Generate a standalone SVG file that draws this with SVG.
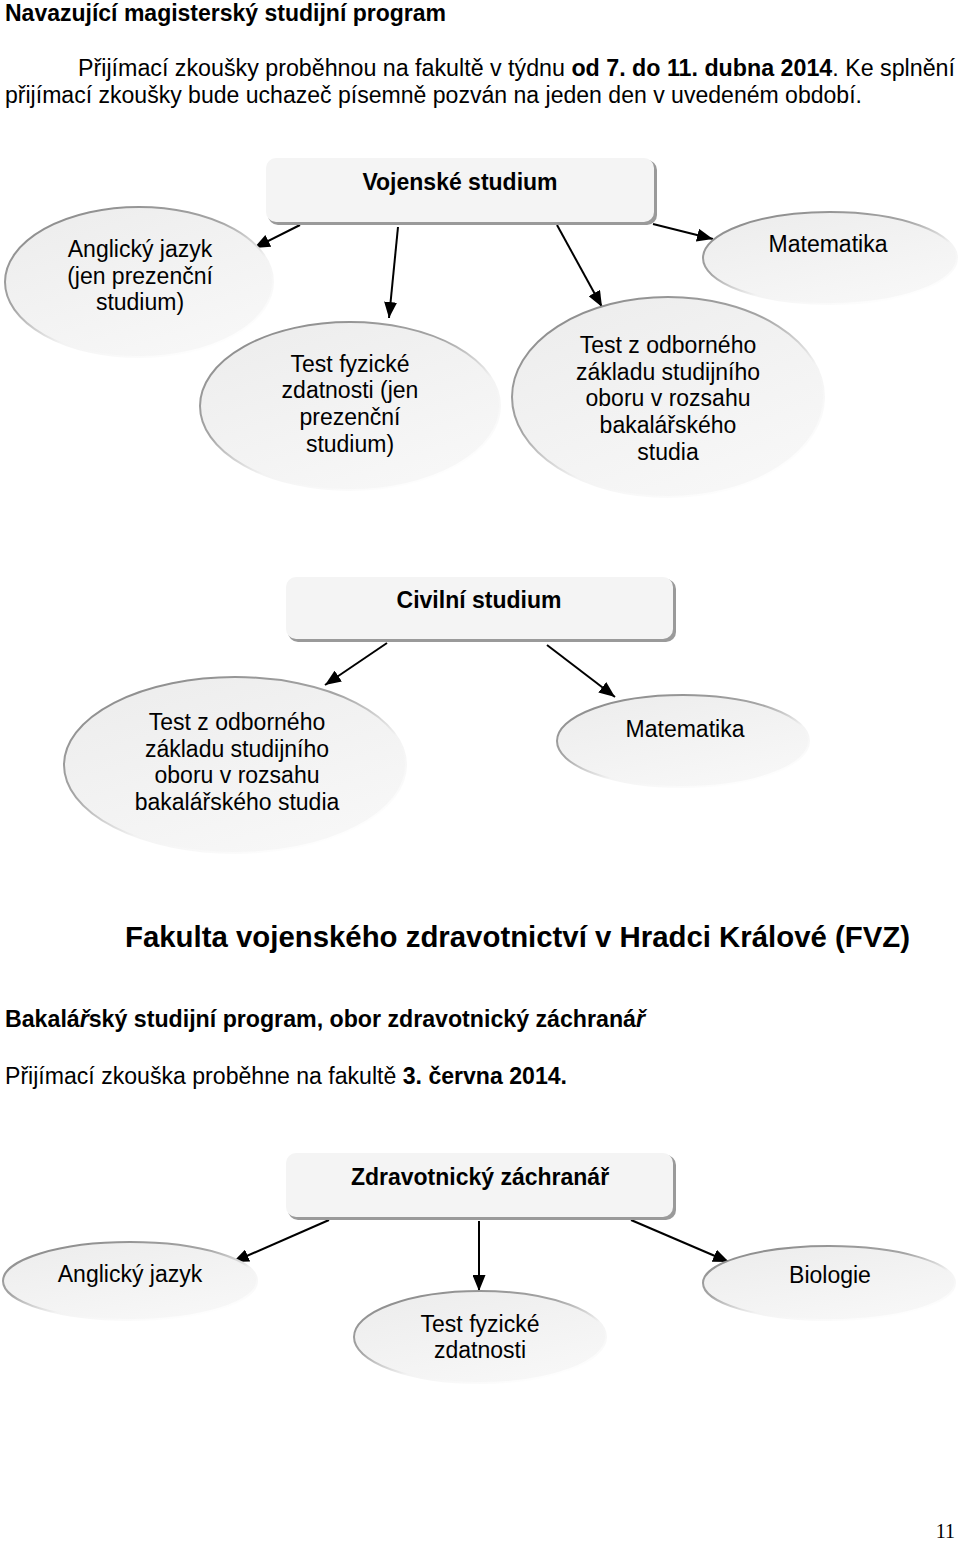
<svg xmlns="http://www.w3.org/2000/svg" width="960" height="1541" viewBox="0 0 960 1541">
  <defs>
    <linearGradient id="ellFill" x1="0" y1="0" x2="0.6" y2="1">
      <stop offset="0" stop-color="#ececec"/>
      <stop offset="1" stop-color="#f7f7f7"/>
    </linearGradient>
    <linearGradient id="ellEdge" x1="0" y1="0" x2="0.75" y2="1">
      <stop offset="0" stop-color="#858585"/>
      <stop offset="0.45" stop-color="#a5a5a5"/>
      <stop offset="0.68" stop-color="#f3f3f3"/>
      <stop offset="1" stop-color="#ffffff"/>
    </linearGradient>
    <marker id="arrow" viewBox="0 0 16 13" refX="16" refY="6.5" markerWidth="16" markerHeight="13" markerUnits="userSpaceOnUse" orient="auto">
      <path d="M0,0 L16,6.5 L0,13 z" fill="#000"/>
    </marker>
  </defs>
  <style>
    text { font-family: "Liberation Sans", Arial, sans-serif; fill: #000; }
    .t { font-size: 23px; }
    .b { font-weight: bold; }
    .n { font-size: 23px; text-anchor: middle; }
    .nb { font-size: 23px; font-weight: bold; text-anchor: middle; }
    .ell { fill: url(#ellFill); stroke: url(#ellEdge); stroke-width: 2; }
    .box { fill: #f4f4f4; }
    .shadow { fill: #9a9a9a; }
    .conn line { stroke: #000; stroke-width: 2; marker-end: url(#arrow); }
  </style>
  <rect width="960" height="1541" fill="#fff"/>

  <!-- page texts -->
  <g id="page-text">
    <text class="t b" x="5" y="21">Navazující magisterský studijní program</text>
    <text class="t" x="78" y="76" textLength="877" lengthAdjust="spacingAndGlyphs">Přijímací zkoušky proběhnou na fakultě v týdnu <tspan class="b">od 7. do 11. dubna 2014</tspan>. Ke splnění</text>
    <text class="t" x="5" y="103" textLength="857" lengthAdjust="spacingAndGlyphs">přijímací zkoušky bude uchazeč písemně pozván na jeden den v uvedeném období.</text>
    <text class="b" x="125" y="947" font-size="29" textLength="785" lengthAdjust="spacingAndGlyphs">Fakulta vojenského zdravotnictví v Hradci Králové (FVZ)</text>
    <text class="t b" x="5" y="1027" textLength="640" lengthAdjust="spacingAndGlyphs">Bakalá<tspan font-style="italic">ř</tspan>ský studijní program, obor zdravotnický záchraná<tspan font-style="italic">ř</tspan></text>
    <text class="t" x="5" y="1084" textLength="562" lengthAdjust="spacingAndGlyphs">Přijímací zkouška proběhne na fakultě <tspan class="b">3. června 2014.</tspan></text>
    <text x="955" y="1538" font-size="20" text-anchor="end" style="font-family: 'Liberation Serif', 'Times New Roman', serif;">11</text>
  </g>

  <!-- connectors -->
  <g id="connectors" class="conn">
    <line x1="300" y1="225" x2="254" y2="248"/>
    <line x1="398" y1="227" x2="389" y2="318"/>
    <line x1="557" y1="225" x2="602" y2="307"/>
    <line x1="653" y1="224" x2="713" y2="239"/>
    <line x1="387" y1="643" x2="325" y2="685"/>
    <line x1="547" y1="645" x2="615" y2="697"/>
    <line x1="329" y1="1220" x2="233" y2="1262"/>
    <line x1="479" y1="1221" x2="479" y2="1291"/>
    <line x1="631" y1="1220" x2="729" y2="1262"/>
  </g>

  <!-- Vojenské studium -->
  <g id="vojenske">
    <rect class="shadow" x="268" y="160" width="389" height="65" rx="10"/>
    <rect class="box" x="266" y="158" width="388" height="64" rx="10"/>
    <text class="nb" x="460" y="190">Vojenské studium</text>
  </g>
  <g id="v-anglicky">
    <ellipse class="ell" cx="139" cy="282" rx="134" ry="75"/>
    <text class="n" x="140" y="257">Anglický jazyk</text>
    <text class="n" x="140" y="284">(jen prezenční</text>
    <text class="n" x="140" y="310">studium)</text>
  </g>
  <g id="v-fyzicke">
    <ellipse class="ell" cx="350" cy="406" rx="150" ry="84"/>
    <text class="n" x="350" y="372">Test fyzické</text>
    <text class="n" x="350" y="398">zdatnosti (jen</text>
    <text class="n" x="350" y="425">prezenční</text>
    <text class="n" x="350" y="452">studium)</text>
  </g>
  <g id="v-odborny">
    <ellipse class="ell" cx="668" cy="397" rx="156" ry="100"/>
    <text class="n" x="668" y="353">Test z odborného</text>
    <text class="n" x="668" y="380">základu studijního</text>
    <text class="n" x="668" y="406">oboru v rozsahu</text>
    <text class="n" x="668" y="433">bakalářského</text>
    <text class="n" x="668" y="460">studia</text>
  </g>
  <g id="v-matematika">
    <ellipse class="ell" cx="830" cy="258" rx="127" ry="46"/>
    <text class="n" x="828" y="252">Matematika</text>
  </g>

  <!-- Civilní studium -->
  <g id="civilni">
    <rect class="shadow" x="288" y="579" width="388" height="63" rx="10"/>
    <rect class="box" x="286" y="577" width="387" height="62" rx="10"/>
    <text class="nb" x="479" y="608">Civilní studium</text>
  </g>
  <g id="c-odborny">
    <ellipse class="ell" cx="235" cy="765" rx="171" ry="88"/>
    <text class="n" x="237" y="730">Test z odborného</text>
    <text class="n" x="237" y="757">základu studijního</text>
    <text class="n" x="237" y="783">oboru v rozsahu</text>
    <text class="n" x="237" y="810">bakalářského studia</text>
  </g>
  <g id="c-matematika">
    <ellipse class="ell" cx="683" cy="741" rx="126" ry="46"/>
    <text class="n" x="685" y="737">Matematika</text>
  </g>

  <!-- Zdravotnický záchranář -->
  <g id="zachranar">
    <rect class="shadow" x="288" y="1155" width="388" height="65" rx="10"/>
    <rect class="box" x="286" y="1153" width="387" height="64" rx="10"/>
    <text class="nb" x="480" y="1185">Zdravotnický záchranář</text>
  </g>
  <g id="z-anglicky">
    <ellipse class="ell" cx="130" cy="1281" rx="127" ry="39"/>
    <text class="n" x="130" y="1282">Anglický jazyk</text>
  </g>
  <g id="z-fyzicke">
    <ellipse class="ell" cx="480" cy="1337" rx="126" ry="46"/>
    <text class="n" x="480" y="1332">Test fyzické</text>
    <text class="n" x="480" y="1358">zdatnosti</text>
  </g>
  <g id="z-biologie">
    <ellipse class="ell" cx="829" cy="1283" rx="126" ry="37"/>
    <text class="n" x="830" y="1283">Biologie</text>
  </g>
</svg>
